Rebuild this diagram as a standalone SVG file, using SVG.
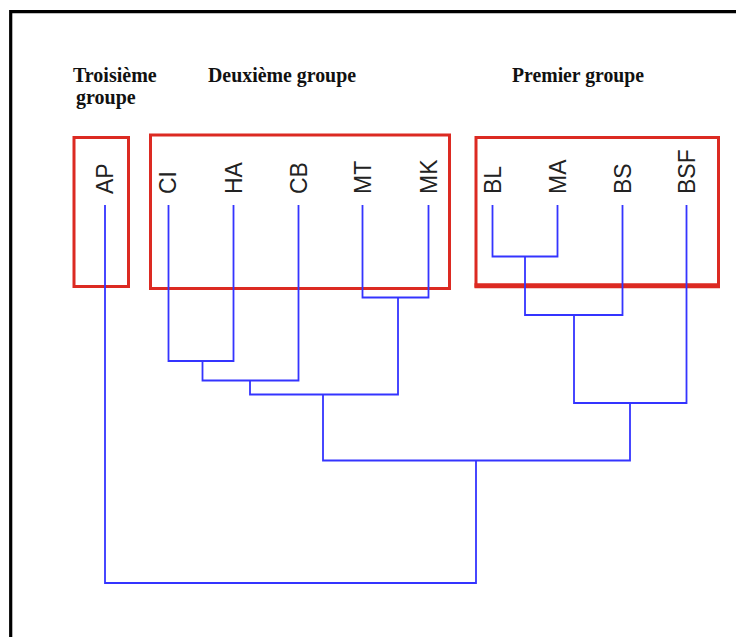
<svg xmlns="http://www.w3.org/2000/svg" width="736" height="637" viewBox="0 0 736 637">
  <style>
    .frame { fill: none; stroke: #000; stroke-width: 3.2; }
    .grp { fill: none; stroke: #dc2a22; stroke-width: 3; }
    .head { font-family: "Liberation Serif", "Times New Roman", serif; font-weight: bold; font-size: 20px; fill: #111; }
    .leaf { font-family: "Liberation Sans", Arial, sans-serif; font-size: 23px; fill: #222; }
    .link { fill: none; stroke: #3434ff; stroke-width: 1.8; stroke-linejoin: miter; }
  </style>

  <rect width="736" height="637" fill="#fff"/>
  <!-- page frame (open to the right and bottom) -->
  <path class="frame" d="M10.7 637 V11.7 H736"/>

  <!-- group headings -->
  <g id="heading-troisieme">
    <text class="head" x="73" y="82">Troisième</text>
    <text class="head" x="76" y="104">groupe</text>
  </g>
  <g id="heading-deuxieme">
    <text class="head" x="208" y="82" textLength="148" lengthAdjust="spacingAndGlyphs">Deuxième groupe</text>
  </g>
  <g id="heading-premier">
    <text class="head" x="512" y="82" textLength="132" lengthAdjust="spacingAndGlyphs">Premier groupe</text>
  </g>

  <!-- group boxes -->
  <g id="box-troisieme"><rect class="grp" x="74" y="137.5" width="54.5" height="149"/></g>
  <g id="box-deuxieme"><rect class="grp" x="150.5" y="135" width="299" height="153.5"/></g>
  <g id="box-premier">
    <rect class="grp" x="476" y="137.5" width="242.5" height="148.5"/>
    <line x1="474.5" y1="285.8" x2="720" y2="285.8" stroke="#dc2a22" stroke-width="5"/>
  </g>

  <!-- leaf labels, rotated to read upwards -->
  <g id="leaf-AP"><text class="leaf" transform="translate(113 194) rotate(-90)">AP</text></g>
  <g id="leaf-CI"><text class="leaf" transform="translate(176 194) rotate(-90)">CI</text></g>
  <g id="leaf-HA"><text class="leaf" transform="translate(242 194) rotate(-90)">HA</text></g>
  <g id="leaf-CB"><text class="leaf" transform="translate(307 194) rotate(-90)">CB</text></g>
  <g id="leaf-MT"><text class="leaf" transform="translate(371 194) rotate(-90)">MT</text></g>
  <g id="leaf-MK"><text class="leaf" transform="translate(437 194) rotate(-90)">MK</text></g>
  <g id="leaf-BL"><text class="leaf" transform="translate(501 194) rotate(-90)">BL</text></g>
  <g id="leaf-MA"><text class="leaf" transform="translate(566 194) rotate(-90)">MA</text></g>
  <g id="leaf-BS"><text class="leaf" transform="translate(631 194) rotate(-90)">BS</text></g>
  <g id="leaf-BSF"><text class="leaf" transform="translate(695 194) rotate(-90)">BSF</text></g>

  <!-- dendrogram links -->
  <g id="links">
    <!-- CI + HA -->
    <path class="link" d="M168.5 205 V361 H233.5 V205"/>
    <!-- (CI,HA) + CB -->
    <path class="link" d="M202.5 361 V380.5 H298.5 V205"/>
    <!-- MT + MK -->
    <path class="link" d="M362.5 205 V297.5 H428.5 V205"/>
    <!-- ((CI,HA),CB) + (MT,MK) -->
    <path class="link" d="M250 380.5 V394.5 H398 V297.5"/>
    <!-- BL + MA -->
    <path class="link" d="M492.5 205 V256.5 H557.5 V205"/>
    <!-- (BL,MA) + BS -->
    <path class="link" d="M525 256.5 V315 H622.5 V205"/>
    <!-- ((BL,MA),BS) + BSF -->
    <path class="link" d="M574 315 V403 H686.5 V205"/>
    <!-- second group + first group -->
    <path class="link" d="M323 394.5 V460.5 H630 V403"/>
    <!-- AP + all others -->
    <path class="link" d="M105 205 V583 H476 V460.5"/>
  </g>
</svg>
